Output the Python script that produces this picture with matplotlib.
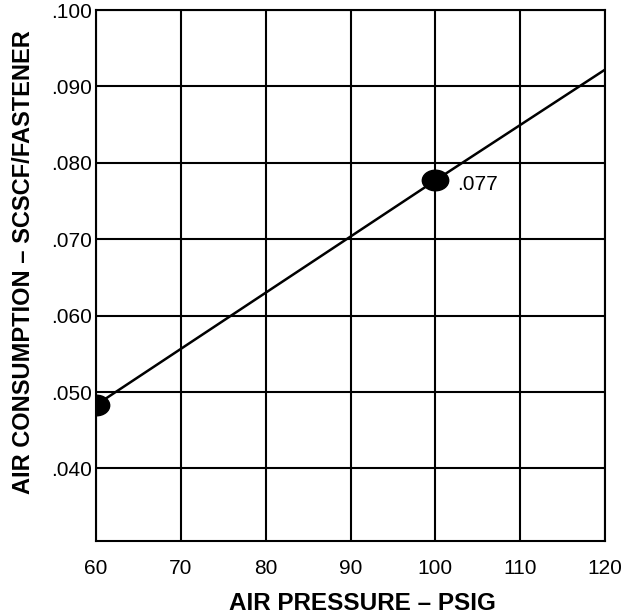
import matplotlib
matplotlib.use('Agg')
import matplotlib.pyplot as plt
from matplotlib.path import Path
from matplotlib.transforms import Affine2D

# valores
pressao = [60, 100, 120]
consumo = [0.0483, 0.0777, 0.0922]
pontos_x = [60, 100]
pontos_y = [0.0483, 0.0777]
rotulo_ponto = '.077'

ticks_x = [60, 70, 80, 90, 100, 110, 120]
ticks_y = [0.040, 0.050, 0.060, 0.070, 0.080, 0.090, 0.100]
labels_y = ['.040', '.050', '.060', '.070', '.080', '.090', '.100']

plt.rcParams['font.family'] = ['Liberation Sans', 'DejaVu Sans']

fig = plt.figure(figsize=(6.26, 6.15), dpi=100)
ax = fig.add_axes([0.1534, 0.1203, 0.8131, 0.8634])

# marcador eliptico (mais largo que alto)
elipse = Path.unit_circle().transformed(Affine2D().scale(1.0, 0.78))

ax.plot(pressao, consumo, color='black', lw=1.8, zorder=3)
ax.plot(pontos_x, pontos_y, linestyle='none', marker=elipse, color='black',
        markersize=19, zorder=4)
ax.annotate(rotulo_ponto, (pontos_x[1], pontos_y[1]), xytext=(16, -3),
            textcoords='offset points', fontsize=15, va='center', ha='left')

ax.set_xlim(60, 120)
ax.set_ylim(0.0305, 0.100)
ax.set_xticks(ticks_x)
ax.set_yticks(ticks_y)
ax.set_yticklabels(labels_y)
ax.grid(True, color='black', lw=1.5)
ax.tick_params(length=0, labelsize=15)
ax.tick_params(axis='x', pad=13)
ax.tick_params(axis='y', pad=3)
for s in ax.spines.values():
    s.set_linewidth(1.5)

ax.set_xlabel('AIR PRESSURE – PSIG', fontsize=17.5, fontweight='bold', va='center')
ax.set_ylabel('AIR CONSUMPTION – SCSCF/FASTENER', fontsize=17, fontweight='bold', va='center')
ax.xaxis.set_label_coords(0.523, -0.118)
ax.yaxis.set_label_coords(-0.143, 0.526)

plt.savefig('out.png', dpi=100)
